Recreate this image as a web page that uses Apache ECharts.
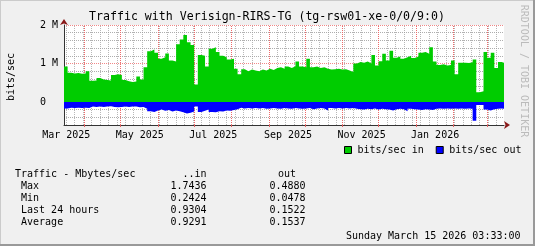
<!DOCTYPE html>
<html><head><meta charset="utf-8">
<script src="https://cdn.jsdelivr.net/npm/echarts@6/dist/echarts.min.js"></script>
<style>html,body{margin:0;padding:0;background:#F0F0F0;}#c{width:535px;height:246px;}</style>
</head><body><div id="c"></div>
<script>
// ---- data (Mbit/s), one value per 3-day bin ----
const startDate = '2025-03-15T03:33:00Z';
const endDate = '2026-03-15T03:33:00Z';
const binDays = 3;
const inValues = [
 0.92,0.76,0.74,0.75,0.73,0.74,0.80,0.55,0.56,0.62,
 0.58,0.57,0.56,0.70,0.72,0.70,0.57,0.54,0.52,0.53,
 0.66,0.58,0.90,1.32,1.36,1.28,1.12,1.16,1.26,1.08,
 1.05,1.50,1.62,1.74,1.55,1.48,0.45,1.22,1.20,0.92,
 1.38,1.42,1.30,1.20,1.16,1.10,1.12,0.86,0.72,0.85,
 0.80,0.84,0.82,0.80,0.84,0.82,0.86,0.83,0.88,0.90,
 0.86,0.92,0.88,0.93,1.05,0.92,0.90,1.12,0.90,0.92,
 0.88,0.90,0.86,0.84,0.85,0.86,0.84,0.85,0.82,0.78,
 1.00,1.04,1.02,1.05,1.00,1.22,0.95,1.06,1.25,1.08,
 1.33,1.15,1.18,1.12,1.16,1.20,1.14,1.18,1.28,1.30,
 1.25,1.42,1.05,0.96,0.98,0.95,0.96,1.08,0.72,1.02,
 1.02,1.01,1.03,1.10,0.25,0.28,1.30,1.15,1.28,0.88,
 1.04,1.02
];
const outValues = [
 -0.17,-0.15,-0.16,-0.15,-0.16,-0.15,-0.16,
 -0.12,-0.13,-0.12,-0.13,-0.12,-0.11,-0.13,-0.14,-0.13,-0.12,-0.13,-0.12,-0.12,-0.14,-0.13,
 -0.18,-0.24,-0.26,-0.22,-0.20,-0.23,-0.21,-0.25,-0.22,-0.24,-0.27,-0.30,-0.28,-0.25,-0.12,-0.26,-0.23,-0.20,-0.26,-0.27,-0.24,-0.25,-0.22,-0.23,-0.21,-0.19,
 -0.15,-0.17,-0.16,-0.17,-0.16,-0.17,-0.16,-0.18,-0.17,-0.16,-0.17,-0.18,-0.16,-0.17,-0.18,-0.16,-0.17,-0.18,-0.17,-0.16,-0.19,-0.17,-0.16,-0.17,-0.22,-0.16,-0.17,-0.16,-0.17,-0.16,-0.17,-0.16,-0.18,
 -0.19,-0.20,-0.18,-0.19,-0.17,-0.20,-0.18,-0.19,-0.20,-0.22,-0.19,-0.18,-0.19,-0.24,-0.18,-0.19,-0.20,-0.21,-0.19,-0.20,-0.21,-0.18,-0.17,-0.18,-0.17,-0.18,-0.17,-0.18,-0.17,-0.18,-0.17,-0.18,
 -0.49,
 -0.08,-0.08,
 -0.20,-0.22,-0.19,-0.18,-0.17,-0.18
];
const yMin = -0.6, yMax = 2.0, yStep = 0.2;
const yTickLabels = {0:'0  ', 1:'1 M', 2:'2 M'};
const monthGrid = ['2025-04-01','2025-05-01','2025-06-01','2025-07-01','2025-08-01','2025-09-01','2025-10-01','2025-11-01','2025-12-01','2026-01-01','2026-02-01','2026-03-01'];
const monthLabelDates = ['2025-03-01','2025-05-01','2025-07-01','2025-09-01','2025-11-01','2026-01-01'];
const monthLabels = ['Mar 2025','May 2025','Jul 2025','Sep 2025','Nov 2025','Jan 2026'];
const seriesNames = ['bits/sec in','bits/sec out'];
const seriesColors = ['#00CC00','#0000FF'];
const titleText = 'Traffic with Verisign-RIRS-TG (tg-rsw01-xe-0/0/9:0)';
const yName = 'bits/sec';
const sideText = 'RRDTOOL / TOBI OETIKER';
const statHeader = ['Traffic - Mbytes/sec','..in','out'];
const statRows = [' Max',' Min',' Last 24 hours',' Average'];
const statIn = ['1.7436','0.2424','0.9304','0.9291'];
const statOut = ['0.4880','0.0478','0.1522','0.1537'];
const dateText = 'Sunday March 15 2026 03:33:00';

// ---- build ----
const DAY = 86400000;
const t0 = Date.parse(startDate), t1 = Date.parse(endDate);
const toMs = d => Date.parse(d + 'T00:00:00Z');
function mk(vals){
  const d = vals.map((v,i)=>[t0 + i*binDays*DAY, v]);
  d.push([t1, vals[vals.length-1]]);
  return d;
}
const labelTimes = monthLabelDates.map(d => toMs(d) + 16*DAY);
const monthTimes = monthGrid.map(toMs);
const weekTimes = [];
{ let d = new Date(t0); d.setUTCHours(0,0,0,0);
  while (d.getUTCDay() !== 1) d = new Date(d.getTime()+DAY);
  for (let t=d.getTime(); t<t1; t+=7*DAY) weekTimes.push(t); }

const FONT = 'DejaVu Sans Mono';
const MINOR = '#9a9a9a', MAJOR = '#ee6a6a';
const gridLines = weekTimes.filter(t=>!monthTimes.some(m=>Math.abs(m-t)<DAY/2)).map(t=>({xAxis:t, lineStyle:{color:MINOR,type:[1,1],width:1,opacity:0.7}}))
  .concat(monthTimes.map(t=>({xAxis:t, lineStyle:{color:MAJOR,type:[1,1],width:1,opacity:1}})));

const txt = (text,x,y,o={}) => ({type:'text', silent:true, x, y, rotation:o.rot||0,
  style:{text, fontFamily:FONT, fontSize:o.size||10, fill:o.fill||'#000', align:o.align||'left', verticalAlign:'middle'}});
const graphics = [
  {type:'rect', silent:true, shape:{x:0,y:0,width:535,height:1}, style:{fill:'#cbcbcb'}},
  {type:'rect', silent:true, shape:{x:0,y:0,width:1,height:246}, style:{fill:'#cbcbcb'}},
  {type:'rect', silent:true, shape:{x:533,y:0,width:2,height:246}, style:{fill:'#999999'}},
  {type:'rect', silent:true, shape:{x:0,y:244,width:535,height:2}, style:{fill:'#999999'}},
  txt(titleText, 267, 17, {size:11.6, align:'center'}),
  txt(yName, 11.5, 77, {rot:Math.PI/2, align:'center'}),
  txt(sideText, 524, 71, {rot:-Math.PI/2, align:'center', fill:'#bbbbbb'}),
  txt(statHeader[0], 15, 174),
  txt(statHeader[1], 206.5, 174, {align:'right'}),
  txt(statHeader[2], 278, 174),
  txt(dateText, 520.5, 236, {align:'right'})
];
statRows.forEach((r,i)=>{
  const y = 186 + i*12;
  graphics.push(txt(r, 15, y), txt(statIn[i], 206.5, y, {align:'right'}), txt(statOut[i], 305.5, y, {align:'right'}));
});

const chart = echarts.init(document.getElementById('c'), null, {renderer:'canvas'});
chart.setOption({
  animation:false,
  backgroundColor:'#F0F0F0',
  grid:{left:64, top:25, width:440, height:100, backgroundColor:'#FFFFFF', show:true, borderWidth:0},
  legend:{left:344, top:145, padding:0, itemWidth:7, itemHeight:7, itemGap:12, icon:'rect',
    itemStyle:{borderColor:'#000', borderWidth:1},
    textStyle:{fontFamily:FONT, fontSize:10, color:'#000', padding:[0,0,0,1]},
    data:seriesNames},
  xAxis:[{type:'value', min:t0, max:t1,
    axisLine:{show:true, onZero:false, lineStyle:{color:'#333', width:1}},
    axisTick:{show:true, customValues:monthTimes, length:2, inside:false, lineStyle:{color:'#e06060'}},
    axisLabel:{show:true, customValues:labelTimes, margin:5, fontFamily:FONT, fontSize:10, color:'#000',
      formatter:v=>{const i=labelTimes.findIndex(t=>Math.abs(t-v)<DAY); return i>=0?monthLabels[i]:'';}},
    splitLine:{show:false}},
   {type:'value', min:t0, max:t1, position:'bottom',
    axisLine:{show:true, onZero:false, symbol:['none','arrow'], symbolSize:[6,6], symbolOffset:[0,6], lineStyle:{color:'#8b1a1a', width:0}},
    axisTick:{show:false}, axisLabel:{show:false}, splitLine:{show:false}}],
  yAxis:[{type:'value', min:yMin, max:yMax, interval:yStep,
    axisLine:{show:true, onZero:false, lineStyle:{color:'#333', width:1}},
    axisTick:{show:false},
    axisLabel:{margin:6, fontFamily:FONT, fontSize:10, color:'#000',
      formatter:v=>{const r=Math.round(v); return (Math.abs(v-r)<1e-6 && yTickLabels[r]!==undefined)?yTickLabels[r]:'';}},
    splitLine:{show:true, lineStyle:{type:[1,1], width:1, color:[MINOR,MINOR,MINOR,MAJOR,MINOR], opacity:0.8}}},
   {type:'value', min:yMin, max:yMax, position:'left',
    axisLine:{show:true, onZero:false, symbol:['none','arrow'], symbolSize:[6,6], symbolOffset:[0,6], lineStyle:{color:'#8b1a1a', width:0}},
    axisTick:{show:false}, axisLabel:{show:false}, splitLine:{show:false}}],
  graphic:graphics,
  series:[
    {type:'line', name:'grid', z:1, data:[[t0,0]], symbol:'none', lineStyle:{width:0}, silent:true, legendHoverLink:false,
     markLine:{z:1, silent:true, symbol:'none', label:{show:false}, animation:false, data:gridLines}},
    {type:'line', name:seriesNames[0], z:3, data:mk(inValues), step:'end', symbol:'none', showSymbol:false,
     itemStyle:{color:seriesColors[0]}, lineStyle:{width:0}, areaStyle:{color:seriesColors[0], opacity:1}},
    {type:'line', name:seriesNames[1], z:3, data:mk(outValues), step:'end', symbol:'none', showSymbol:false,
     itemStyle:{color:seriesColors[1]}, lineStyle:{width:0}, areaStyle:{color:seriesColors[1], opacity:1}}
  ]
});
</script></body></html>
